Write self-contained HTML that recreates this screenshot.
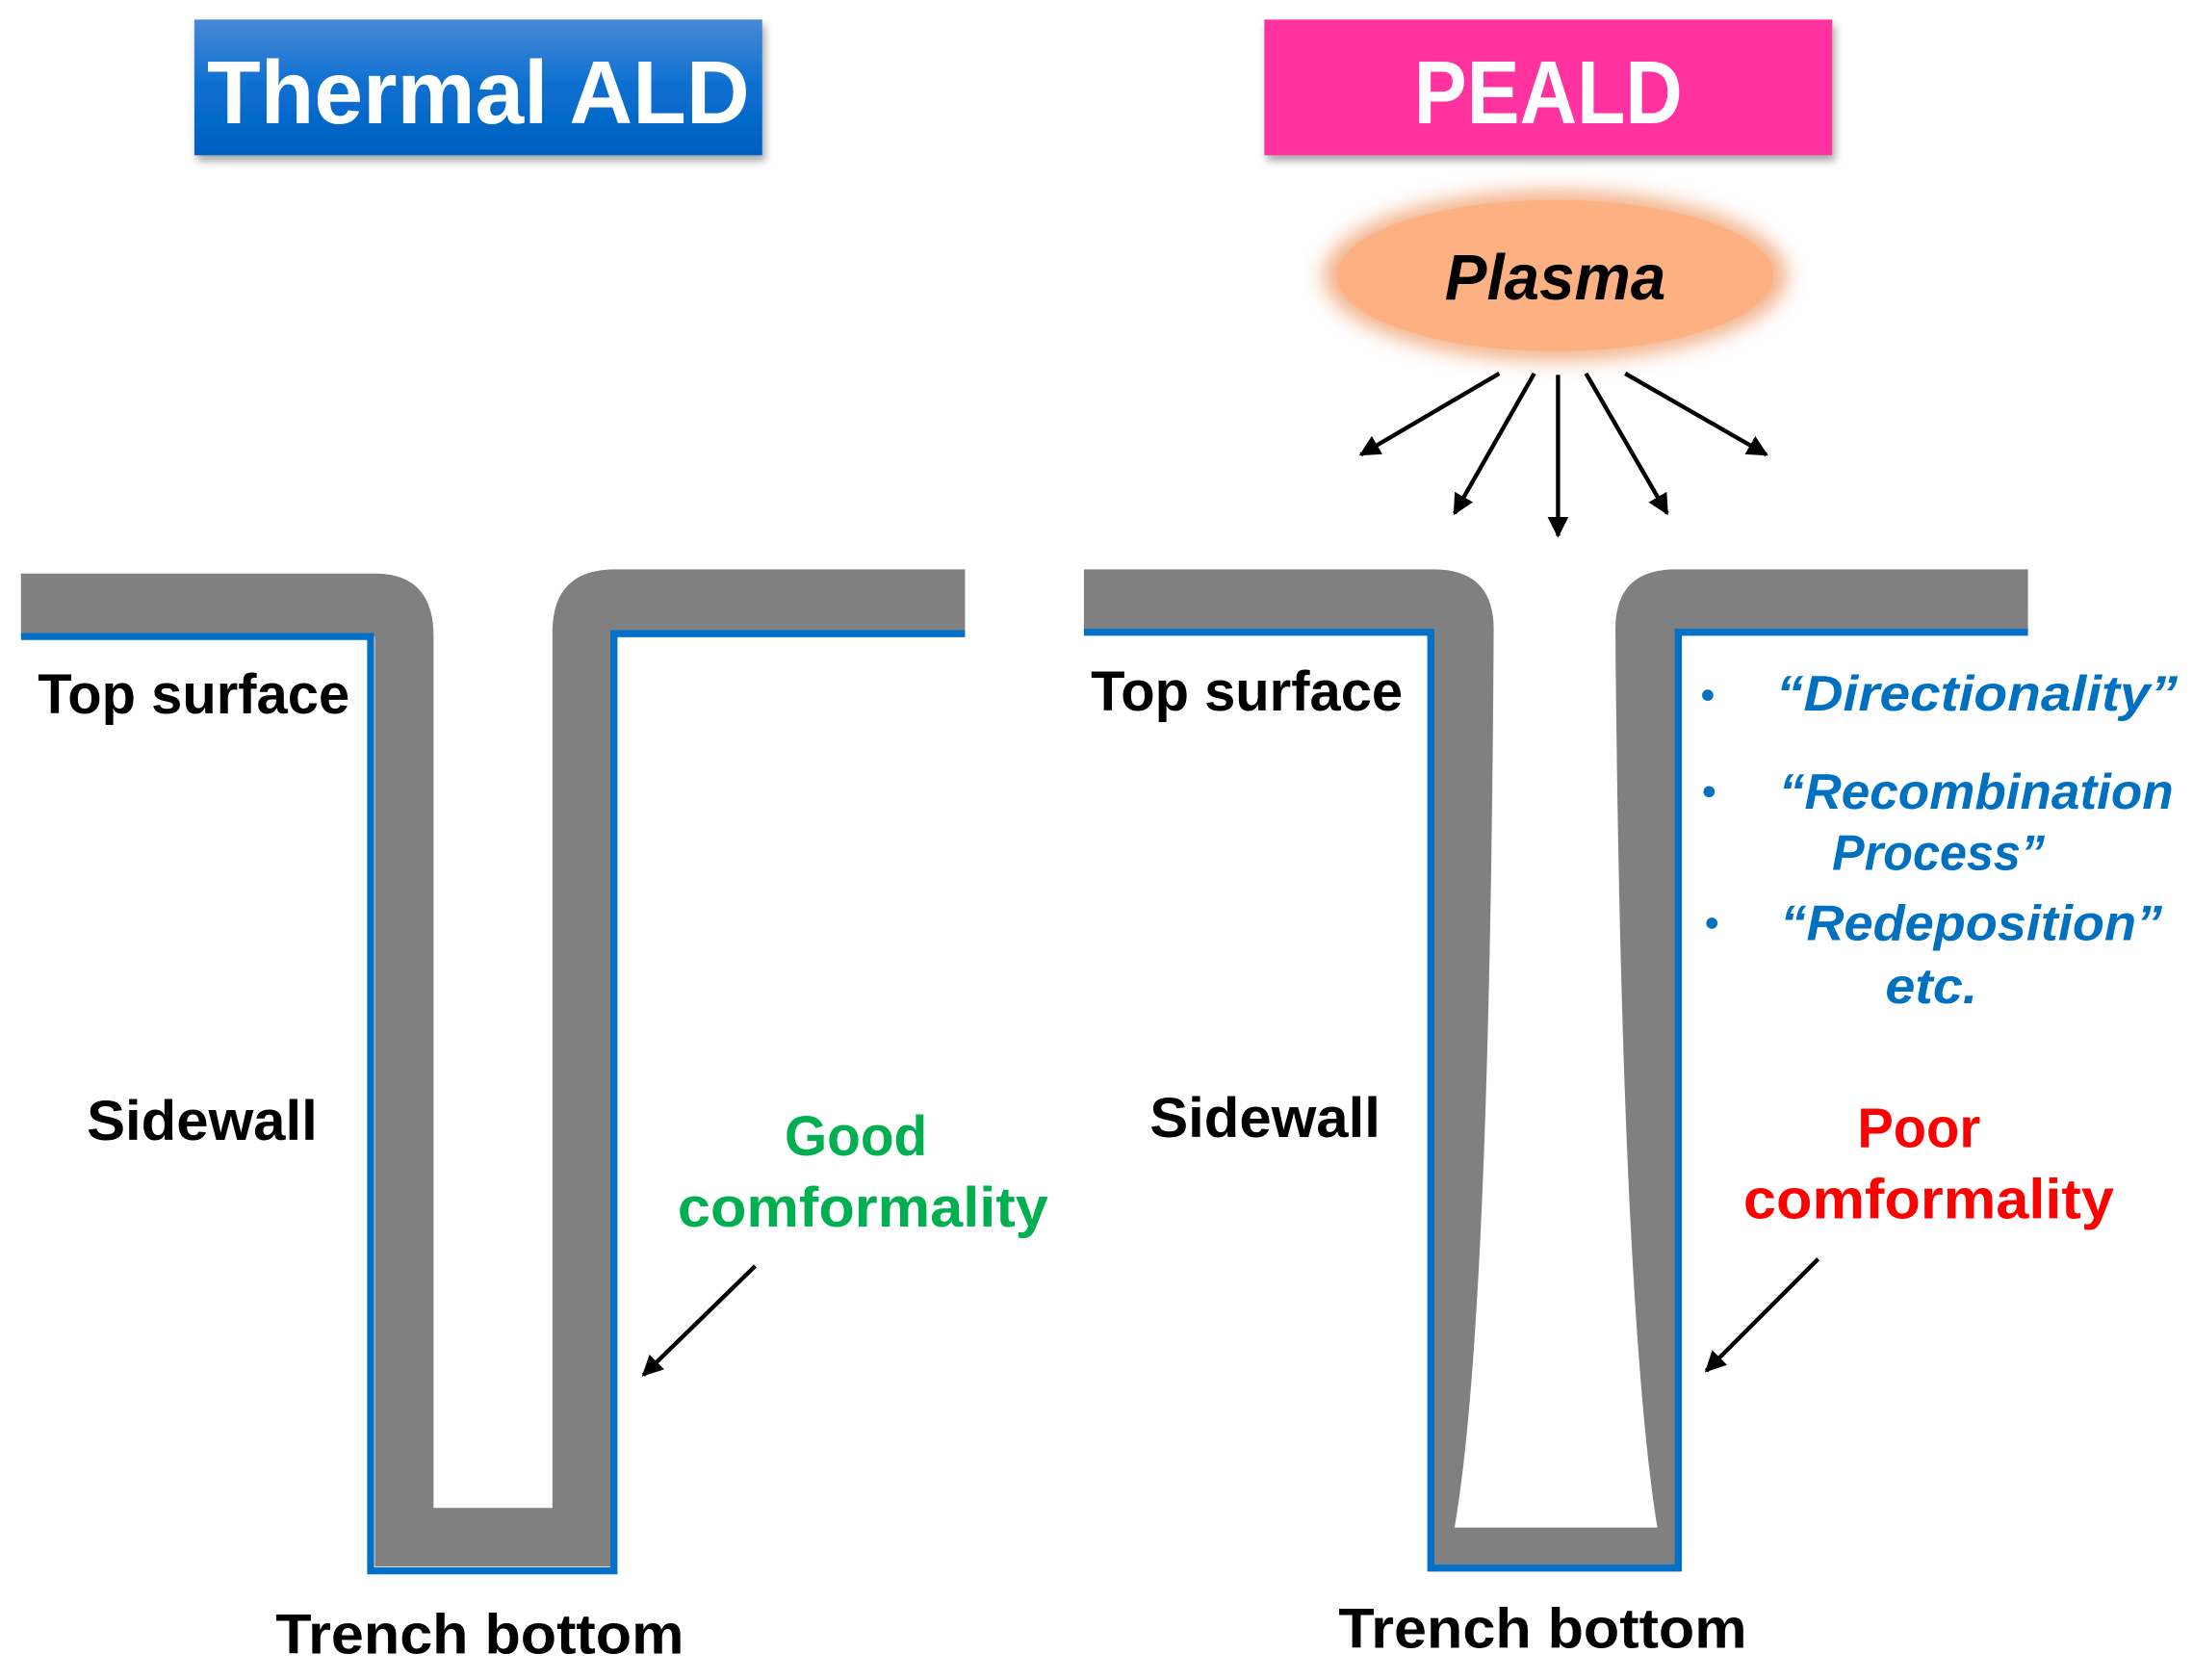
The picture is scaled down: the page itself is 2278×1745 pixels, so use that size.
<!DOCTYPE html>
<html><head><meta charset="utf-8"><style>
html,body{margin:0;padding:0;background:#fff;}
svg{display:block;}
text{font-family:"Liberation Sans","DejaVu Sans",sans-serif;font-weight:bold;}
</style></head><body>
<svg width="2278" height="1745" viewBox="0 0 1568 1201" preserveAspectRatio="none" xmlns="http://www.w3.org/2000/svg">
<defs>
<linearGradient id="bg1" x1="0" y1="0" x2="0" y2="1"><stop offset="0" stop-color="#4a88d6"/><stop offset="0.5" stop-color="#0a6fd0"/><stop offset="1" stop-color="#0060c0"/></linearGradient>
<filter id="sh" x="-10%" y="-20%" width="120%" height="150%"><feDropShadow dx="2" dy="4" stdDeviation="3" flood-color="#000" flood-opacity="0.35"/></filter>
<filter id="bl" x="-30%" y="-50%" width="160%" height="200%"><feGaussianBlur stdDeviation="7"/></filter>
<marker id="ah" viewBox="0 0 10 10" refX="9" refY="5" markerWidth="5" markerHeight="5" orient="auto"><path d="M0,0 L10,5 L0,10 Z" fill="#000"/></marker>
</defs>
<!-- titles -->
<rect x="139" y="14" width="406" height="97" fill="url(#bg1)" filter="url(#sh)"/>
<text x="342" y="88" text-anchor="middle" font-size="64" fill="#fff" textLength="388" lengthAdjust="spacingAndGlyphs">Thermal ALD</text>
<rect x="904" y="14" width="406" height="97" fill="#ff33a0" filter="url(#sh)"/>
<text x="1107" y="88" text-anchor="middle" font-size="64" fill="#fff" textLength="192" lengthAdjust="spacingAndGlyphs">PEALD</text>
<!-- plasma -->
<ellipse cx="1112" cy="197" rx="166" ry="61" fill="#f0a070" opacity="0.8" filter="url(#bl)"/>
<ellipse cx="1112" cy="197" rx="156" ry="54" fill="#fdb182"/>
<text x="1112" y="214" text-anchor="middle" font-size="46" font-style="italic" fill="#000" textLength="158" lengthAdjust="spacingAndGlyphs">Plasma</text>
<g stroke="#000" stroke-width="3" marker-end="url(#ah)">
<line x1="1072" y1="267" x2="973" y2="325"/>
<line x1="1097" y1="267" x2="1040" y2="367"/>
<line x1="1114" y1="268" x2="1114" y2="383"/>
<line x1="1134" y1="267" x2="1192" y2="367"/>
<line x1="1162" y1="267" x2="1263" y2="325"/>
</g>
<!-- left trench -->
<path d="M15,410 H268 Q310,410 310,455 V1078 H395 V452 Q395,407 440,407 H690 V452 H437 V1120 H268 V455 H15 Z" fill="#808080"/>
<polyline points="15,455 265,455 265,1123 439,1123 439,453 690,453" fill="none" stroke="#0070c8" stroke-width="5"/>
<!-- right trench -->
<path d="M775,407 H1025 Q1068,407 1068,450 C1066,800 1056,1000 1040,1092 H1185 C1170,1000 1158,800 1155,450 Q1155,407 1198,407 H1450 V452 H1200 V1120 H1025 V452 H775 Z" fill="#808080"/>
<polyline points="775,452 1023,452 1023,1121 1200,1121 1200,452 1450,452" fill="none" stroke="#0070c8" stroke-width="5"/>
<!-- labels -->
<g font-size="40" fill="#000">
<text x="27" y="510" textLength="223" lengthAdjust="spacingAndGlyphs">Top surface</text>
<text x="62" y="815" textLength="165" lengthAdjust="spacingAndGlyphs">Sidewall</text>
<text x="197" y="1182" textLength="292" lengthAdjust="spacingAndGlyphs">Trench bottom</text>
<text x="780" y="508" textLength="223" lengthAdjust="spacingAndGlyphs">Top surface</text>
<text x="822" y="813" textLength="165" lengthAdjust="spacingAndGlyphs">Sidewall</text>
<text x="957" y="1178" textLength="292" lengthAdjust="spacingAndGlyphs">Trench bottom</text>
</g>
<g font-size="40" fill="#00b050" text-anchor="middle">
<text x="612" y="826" textLength="102" lengthAdjust="spacingAndGlyphs">Good</text>
<text x="617" y="877" textLength="265" lengthAdjust="spacingAndGlyphs">comformality</text>
</g>
<g font-size="40" fill="#ff0000" text-anchor="middle">
<text x="1372" y="820" textLength="88" lengthAdjust="spacingAndGlyphs">Poor</text>
<text x="1379" y="871" textLength="265" lengthAdjust="spacingAndGlyphs">comformality</text>
</g>
<g stroke="#000" stroke-width="3" marker-end="url(#ah)">
<line x1="540" y1="905" x2="460" y2="983"/>
<line x1="1300" y1="900" x2="1220" y2="980"/>
</g>
<!-- blue list -->
<g fill="#0070c0">
<circle cx="1221" cy="497" r="4"/>
<circle cx="1222" cy="566" r="4"/>
<circle cx="1224" cy="660" r="4"/>
</g>
<g font-size="36" font-style="italic" fill="#0070c0">
<text x="1270" y="508" textLength="287" lengthAdjust="spacingAndGlyphs">“Directionality”</text>
<text x="1272" y="578" textLength="282" lengthAdjust="spacingAndGlyphs">“Recombination</text>
<text x="1310" y="622" textLength="152" lengthAdjust="spacingAndGlyphs">Process”</text>
<text x="1273" y="672" textLength="273" lengthAdjust="spacingAndGlyphs">“Redeposition”</text>
<text x="1348" y="717" textLength="66" lengthAdjust="spacingAndGlyphs">etc.</text>
</g>
</svg>
</body></html>
